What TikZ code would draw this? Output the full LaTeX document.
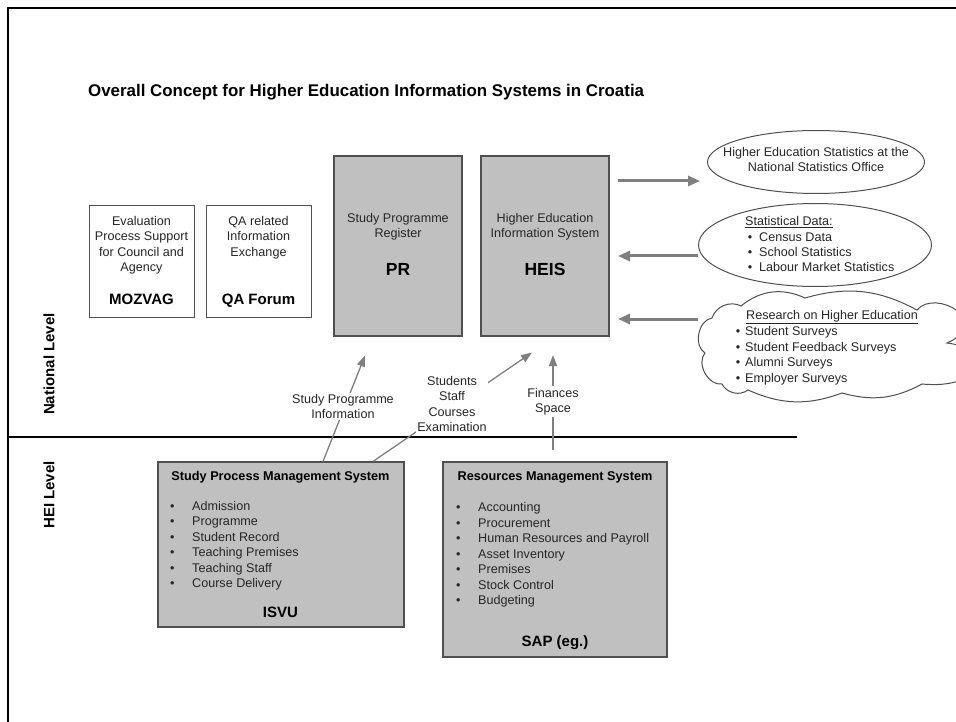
\documentclass[tikz,border=0pt]{standalone}
\usepackage{fontspec}
\setmainfont{Liberation Sans}
\usetikzlibrary{shapes.geometric,arrows.meta,calc}
\definecolor{boxgray}{HTML}{C0C0C0}
\definecolor{arrowgray}{HTML}{7F7F7F}
\definecolor{edgegray}{HTML}{505050}
\definecolor{txtgray}{HTML}{262626}
\tikzset{
  body/.style={font=\fontsize{12.6}{15.3}\selectfont, inner sep=0pt, text=txtgray},
  listtxt/.style={font=\fontsize{12.6}{15.5}\selectfont, inner sep=0pt, align=left, anchor=base west, text=txtgray},
  ctxt/.style={body, align=center, anchor=base},
  bigname/.style={font=\bfseries\fontsize{15}{18}\selectfont, inner sep=0pt, anchor=base},
  boxtitle/.style={font=\bfseries\fontsize{12.7}{15.5}\selectfont, inner sep=0pt, anchor=base},
  whitebox/.style={draw=edgegray, line width=1pt, fill=white, inner sep=0pt},
  graybox/.style={draw=edgegray, line width=1.1pt, fill=boxgray, inner sep=0pt},
  ovalbox/.style={ellipse, draw=edgegray, line width=1pt, inner sep=0pt},
  cloudline/.style={draw=edgegray, line width=1pt, fill=white},
  bigarrow/.style={draw=arrowgray, line width=3pt, -{Triangle[length=12pt,width=10pt]}},
  smallarrow/.style={draw=arrowgray, line width=1.3pt, -{Triangle[length=11pt,width=8pt]}},
  flowlabel/.style={body, align=center, fill=white, inner sep=1.5pt},
  levellabel/.style={font=\bfseries\fontsize{15}{18}\selectfont, inner sep=0pt, rotate=90},
}
\begin{document}
\begin{tikzpicture}[x=1pt,y=-1pt]
\useasboundingbox (0,0) rectangle (956,722);
\clip (0,0) rectangle (956,722);

% frame and level separator
\draw[line width=2.6pt] (8,730) -- (8,8) -- (970,8);
\draw[line width=2pt] (8,437) -- (797,437);

% title
\node[font=\bfseries\fontsize{16.9}{20}\selectfont, inner sep=0pt, anchor=base west] (title) at (88,97)
  {Overall Concept for Higher Education Information Systems in Croatia};

% level labels
\node[levellabel] (natlevel) at (49,364) {National Level};
\node[levellabel] (heilevel) at (49,495) {HEI Level};

% national level white boxes (multi-line nodes: base = last baseline)
\node[whitebox, minimum width=105pt, minimum height=111pt] (mozvag) at (141.5,261.5) {};
\node[ctxt] (mozvagtxt) at (141.5,271.4) {Evaluation\\Process Support\\for Council and\\Agency};
\node[bigname] (mozvagname) at (141.5,304.3) {MOZVAG};

\node[whitebox, minimum width=105pt, minimum height=111pt] (qaf) at (258.5,261.5) {};
\node[ctxt] (qaftxt) at (258.5,256.1) {QA related\\Information\\Exchange};
\node[bigname] (qafname) at (258.5,304.3) {QA Forum};

% gray boxes PR / HEIS
\node[graybox, minimum width=128pt, minimum height=180pt] (pr) at (398,246) {};
\node[ctxt] (prtxt) at (398,237.8) {Study Programme\\Register};
\node[font=\bfseries\fontsize{17.5}{20}\selectfont, inner sep=0pt, anchor=base] (prname) at (398,276) {PR};

\node[graybox, minimum width=128pt, minimum height=180pt] (heis) at (545,246) {};
\node[ctxt] (heistxt) at (545,237.8) {Higher Education\\Information System};
\node[font=\bfseries\fontsize{17.5}{20}\selectfont, inner sep=0pt, anchor=base] (heisname) at (545,276) {HEIS};

% right side sources / targets
\node[ovalbox, minimum width=217pt, minimum height=63pt] (nso) at (816,162) {};
\node[ctxt] (nsotxt) at (816,171.8) {Higher Education Statistics at the\\National Statistics Office};

\node[ovalbox, minimum width=233pt, minimum height=83pt] (stat) at (815,245) {};
\node[body, anchor=base west] (stathead) at (745,225.5) {\underline{Statistical Data:}};
\node[listtxt, font=\fontsize{12.6}{15}\selectfont] (statlist) at (747.6,271.5)
  {\makebox[11.4pt][l]{\textbullet}Census Data\\
   \makebox[11.4pt][l]{\textbullet}School Statistics\\
   \makebox[11.4pt][l]{\textbullet}Labour Market Statistics};

% research cloud (drawn shape, runs off the right edge)
\draw[cloudline] (705,353) to[bend left=70] (712,318) to[bend left=50] (741,306)
  to[bend left=32] (805,298) to[bend left=22] (917,310)
  .. controls (935,288) and (995,322) .. (947,343)
  .. controls (992,348) and (985,390) .. (922,384)
  to[bend left=22] (842,393) to[bend left=22] (748,390) to[bend left=50] (722,384)
  to[bend left=70] cycle;
\coordinate (research) at (698,319);
\node[body, anchor=base west] (reshead) at (746,319.5) {\underline{Research on Higher Education}};
\node[listtxt, font=\fontsize{12.6}{15.5}\selectfont] (reslist) at (735.6,382)
  {\makebox[9.4pt][l]{\textbullet}Student Surveys\\
   \makebox[9.4pt][l]{\textbullet}Student Feedback Surveys\\
   \makebox[9.4pt][l]{\textbullet}Alumni Surveys\\
   \makebox[9.4pt][l]{\textbullet}Employer Surveys};

% big arrows
\coordinate (outA) at (618,181);
\coordinate (outAtip) at (700,181);
\coordinate (inB) at (618,256);
\coordinate (inC) at (618,319);
\draw[bigarrow] (outA) -- (outAtip);
\draw[bigarrow] (stat.west |- inB) -- (inB);
\draw[bigarrow] (research) -- (inC);

% HEI level boxes
\node[graybox, minimum width=246pt, minimum height=165pt] (isvu) at (281,544.5) {};
\node[boxtitle] (isvutitle) at (280.5,480) {Study Process Management System};
\node[listtxt] (isvulist) at (169.8,587.5)
  {\makebox[22.2pt][l]{\textbullet}Admission\\
   \makebox[22.2pt][l]{\textbullet}Programme\\
   \makebox[22.2pt][l]{\textbullet}Student Record\\
   \makebox[22.2pt][l]{\textbullet}Teaching Premises\\
   \makebox[22.2pt][l]{\textbullet}Teaching Staff\\
   \makebox[22.2pt][l]{\textbullet}Course Delivery};
\node[bigname] (isvuname) at (280.5,617) {ISVU};

\node[graybox, minimum width=224pt, minimum height=195pt] (sap) at (555,559.5) {};
\node[boxtitle] (saptitle) at (555,480.5) {Resources Management System};
\node[listtxt] (saplist) at (455.8,604.5)
  {\makebox[22.2pt][l]{\textbullet}Accounting\\
   \makebox[22.2pt][l]{\textbullet}Procurement\\
   \makebox[22.2pt][l]{\textbullet}Human Resources and Payroll\\
   \makebox[22.2pt][l]{\textbullet}Asset Inventory\\
   \makebox[22.2pt][l]{\textbullet}Premises\\
   \makebox[22.2pt][l]{\textbullet}Stock Control\\
   \makebox[22.2pt][l]{\textbullet}Budgeting};
\node[bigname] (sapname) at (555,646) {SAP (eg.)};

% flows from HEI level to national level
\coordinate (f1s) at ([xshift=42pt]isvu.north);
\coordinate (f2s) at ([xshift=92pt]isvu.north);
\coordinate (f3s) at (553,450);
\coordinate (f1e) at ([xshift=-33pt,yshift=-19pt]pr.south);
\coordinate (f2e) at ([xshift=-13pt,yshift=-16pt]heis.south);
\coordinate (f3e) at (553,355);
\draw[smallarrow] (f1s) -- (f1e);
\draw[smallarrow] (f2s) -- (f2e);
\draw[smallarrow] (f3s) -- (f3e);
\node[flowlabel] (lab1) at (343,406.5) {Study Programme\\Information};
\node[flowlabel] (lab2) at (452,404) {Students\\Staff\\Courses\\Examination};
\node[flowlabel] (lab3) at (553,401.5) {Finances\\Space};
\end{tikzpicture}
\end{document}
